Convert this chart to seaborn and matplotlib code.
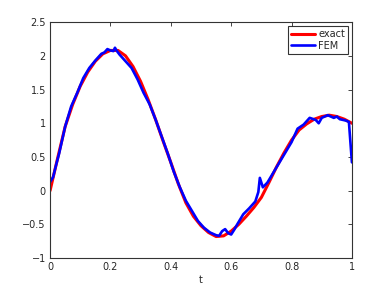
import matplotlib
matplotlib.use("Agg")
import matplotlib.pyplot as plt
import seaborn as sns
import pandas as pd

# exact solution
t_exact = [0, 0.025, 0.05, 0.075, 0.1, 0.125, 0.15, 0.175, 0.2, 0.225, 0.25, 0.275,
           0.3, 0.325, 0.35, 0.375, 0.4, 0.425, 0.45, 0.475, 0.5, 0.525, 0.55, 0.575,
           0.6, 0.625, 0.65, 0.675, 0.7, 0.725, 0.75, 0.775, 0.8, 0.825, 0.85, 0.875,
           0.9, 0.925, 0.95, 0.975, 1.0]
y_exact = [0, 0.48, 0.95, 1.28, 1.55, 1.76, 1.92, 2.03, 2.08, 2.08, 2.0, 1.84,
           1.62, 1.35, 1.05, 0.73, 0.42, 0.1, -0.18, -0.38, -0.52, -0.62, -0.68, -0.67,
           -0.6, -0.5, -0.38, -0.25, -0.1, 0.12, 0.35, 0.56, 0.75, 0.9, 0.99, 1.06,
           1.1, 1.12, 1.1, 1.06, 1.0]

# FEM solution
t_fem = [0, 0.01, 0.02, 0.03, 0.05, 0.07, 0.09, 0.11, 0.13, 0.15, 0.17, 0.18, 0.19,
         0.2, 0.21, 0.215, 0.22, 0.23, 0.25, 0.27, 0.29, 0.31, 0.33, 0.35, 0.37, 0.39,
         0.41, 0.43, 0.45, 0.47, 0.49, 0.51, 0.53, 0.55, 0.56, 0.57, 0.58, 0.59, 0.6,
         0.61, 0.62, 0.64, 0.66, 0.68, 0.69, 0.695, 0.705, 0.72, 0.74, 0.76, 0.78, 0.8,
         0.82, 0.84, 0.86, 0.88, 0.89, 0.9, 0.92, 0.94, 0.95, 0.96, 0.98, 0.99, 1.0]
y_fem = [0.13, 0.2, 0.38, 0.55, 0.95, 1.25, 1.45, 1.67, 1.82, 1.93, 2.03, 2.05, 2.1,
         2.08, 2.07, 2.12, 2.08, 2.02, 1.92, 1.82, 1.65, 1.45, 1.28, 1.05, 0.8, 0.55,
         0.28, 0.05, -0.15, -0.3, -0.45, -0.55, -0.62, -0.66, -0.67, -0.6, -0.57, -0.63,
         -0.65, -0.58, -0.5, -0.35, -0.26, -0.16, -0.02, 0.19, 0.05, 0.12, 0.27, 0.42,
         0.57, 0.72, 0.92, 0.98, 1.08, 1.05, 1.0, 1.08, 1.12, 1.08, 1.1, 1.06, 1.04,
         1.02, 0.42]

sns.set_style("white")
plt.rcParams['font.family'] = ['DejaVu Sans']
plt.rcParams['xtick.direction'] = 'in'
plt.rcParams['ytick.direction'] = 'in'

fig, ax = plt.subplots(figsize=(3.88, 2.91), dpi=100)
fig.subplots_adjust(left=0.129, right=0.907, top=0.924, bottom=0.113)

df_exact = pd.DataFrame({"t": t_exact, "y": y_exact})
df_fem = pd.DataFrame({"t": t_fem, "y": y_fem})
sns.lineplot(data=df_exact, x="t", y="y", color="#ff0000", linewidth=2.2,
             label="exact", ax=ax)
sns.lineplot(data=df_fem, x="t", y="y", color="#0000ff", linewidth=1.9,
             label="FEM", ax=ax)

ax.set_xlim(0, 1)
ax.set_ylim(-1, 2.5)
ax.set_xticks([0, 0.2, 0.4, 0.6, 0.8, 1])
ax.set_xticklabels(["0", "0.2", "0.4", "0.6", "0.8", "1"])
ax.set_yticks([-1, -0.5, 0, 0.5, 1, 1.5, 2, 2.5])
ax.set_yticklabels(["\u22121", "\u22120.5", "0", "0.5", "1", "1.5", "2", "2.5"])
ax.tick_params(labelsize=7, length=3, width=0.6, top=True, right=True, pad=3)
ax.set_xlabel("t", fontsize=7, labelpad=2)
ax.set_ylabel("")
for s in ax.spines.values():
    s.set_linewidth(0.8)
    s.set_color("#333333")

leg = ax.legend(loc="upper right", fontsize=7, frameon=True, fancybox=False,
                handlelength=2.5, borderpad=0.3, labelspacing=0.2,
                handletextpad=0.3, borderaxespad=0.4)
leg.get_frame().set_edgecolor("black")
leg.get_frame().set_linewidth(0.8)

fig.savefig("out.png", dpi=100)
